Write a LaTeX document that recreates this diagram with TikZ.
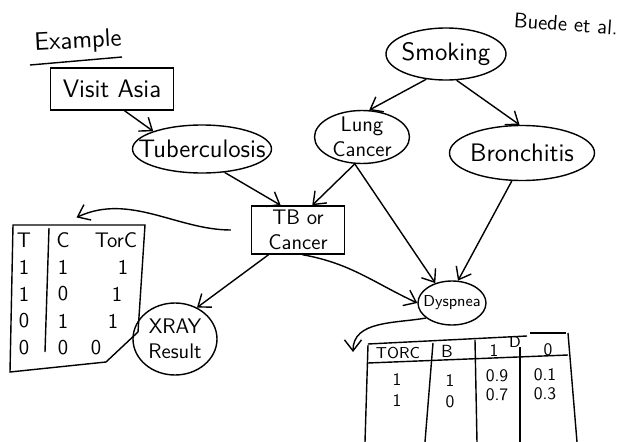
\documentclass[tikz,border=0pt]{standalone}
\usepackage{tikz}
\usetikzlibrary{shapes.geometric,arrows.meta}

\begin{document}
\begin{tikzpicture}[x=0.2mm, y=-0.2mm, line width=0.8pt,
		>={Straight Barb[length=2.2mm, width=3.4mm]},
		bubble/.style={draw, ellipse, inner sep=0pt},
		box/.style={draw, rectangle, inner sep=0pt},
		every node/.style={font=\sffamily},
		every label/.style={font=\sffamily\Large, align=center}]
			%%%%% START %%%%%
			\useasboundingbox (0, 0) rectangle (628, 442);
			
			\node[font=\sffamily\Large, rotate=3] (example) at (78, 42) {Example};
			\draw (30, 65) -- (122, 57);
			\node[font=\sffamily\large, rotate=-4] (buede) at (566, 24) {Buede et al.};
			
			\node[box, minimum width=24.6mm, minimum height=8.4mm, font=\sffamily\Large] (visit) at (112, 89) {Visit Asia};
			\node[bubble, minimum width=27.8mm, minimum height=9.6mm, label=center:Tuberculosis] (tb) at (202, 149) {};
			\node[bubble, minimum width=24mm, minimum height=10.4mm, label=center:Smoking] (smoke) at (446, 54) {};
			\node[bubble, minimum width=19mm, minimum height=10.6mm, label={[font=\sffamily\large]center:Lung\\Cancer}] (lung) at (362, 137) {};
			\node[bubble, minimum width=29mm, minimum height=11mm, label=center:Bronchitis] (bron) at (522, 153) {};
			\node[box, minimum width=18.6mm, minimum height=9.6mm, align=center, font=\sffamily\large] (tborc) at (298, 230) {TB or\\Cancer};
			\node[bubble, minimum width=13.6mm, minimum height=8.8mm, label={[font=\sffamily\small]center:Dyspnea}] (dysp) at (452, 303) {};
			\node[bubble, minimum width=16.8mm, minimum height=14.4mm, label={[font=\sffamily\large]center:XRAY\\Result}] (xray) at (175, 339) {};
			
			% table for TB or Cancer
			\node[minimum width=25mm, minimum height=29.4mm] (ctab) at (76, 298) {};
			\draw (13, 225) -- (145, 225) -- (138, 332) -- (106, 362) -- (10, 372) -- cycle;
			\draw (49, 228) -- (45, 352);
			\foreach \t/\c/\o/\ox [count=\i from 0] in {T/C/TorC/116, 1/1/1/123, 1/0/1/117, 0/1/1/113, 0/0/0/96} {
				\node[font=\sffamily\large] (ct\i) at (24, 240+27*\i) {\t};
				\node[font=\sffamily\large] (cc\i) at (63, 240+27*\i) {\c};
				\node[font=\sffamily\large] (co\i) at (\ox, 240+27*\i) {\o};
			}
			
			% table for Dyspnea
			\coordinate (dtip) at (353, 352);
			\draw (368, 344) -- (527, 336);
			\draw (530, 333) -- (566, 333);
			\draw (368, 363) -- (568, 355);
			\foreach \xa/\ya/\xb in {368/345/365, 433/343/425, 475/340/477, 520/347/520, 568/333/577}
				\draw (\xa, \ya) -- (\xb, 442);
			\node[font=\sffamily\small] (dh1) at (398, 353) {TORC};
			\node (dh2) at (447, 351) {B};
			\node[font=\sffamily\small] (dhd) at (515, 342) {D};
			\node (dh3) at (494, 351) {1};
			\node (dh4) at (548, 350) {0};
			\foreach \a/\b/\p/\q [count=\i from 0] in {1/1/0.9/0.1, 1/0/0.7/0.3} {
				\node (dt\i) at (397, 380+21*\i) {\a};
				\node (db\i) at (450, 381+21*\i) {\b};
				\node (dp\i) at (497, 376+19*\i) {\p};
				\node (dq\i) at (545, 375+19*\i) {\q};
			}
			
			\draw[->] (visit.-60) -- (tb.160);
			\draw[->] (tb.-46) -- (tborc.125);
			\draw[->] (smoke.232) -- (lung.75);
			\draw[->] (smoke.-68) -- (bron.95);
			\draw[->] (lung.255) -- (tborc.60);
			\draw[->] (lung.255) -- (dysp.130);
			\draw[->] (bron.250) -- (dysp.75);
			\draw[->] (tborc.-80) to[out=-10, in=155] (dysp.west);
			\draw[->] (tborc.220) -- (xray.55);
			\draw[->, shorten <=4mm, shorten >=3mm] (tborc.west) to[out=180, in=25] (ctab.100);
			\draw[->] (dysp.210) to[out=190, in=90] (dtip);
			
			%%%%% END %%%%%
		\end{tikzpicture}
\end{document}
